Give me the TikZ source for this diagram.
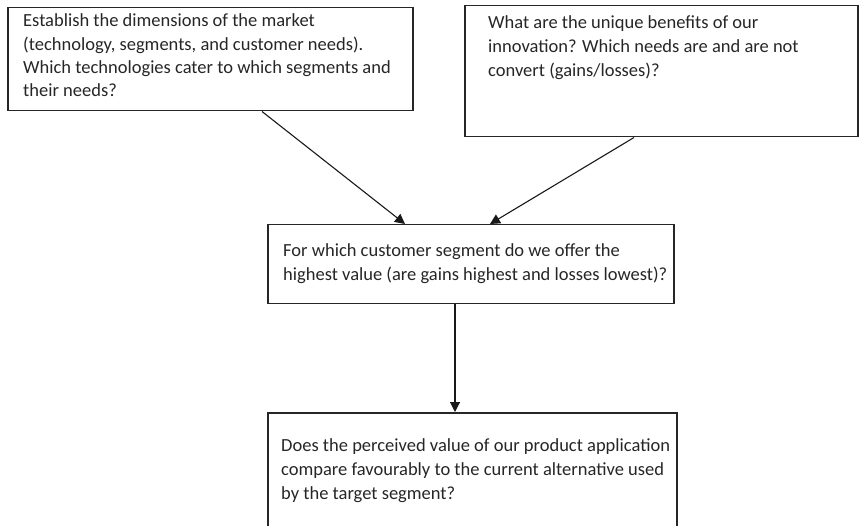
\documentclass[tikz,border=0pt]{standalone}
\usepackage{fontspec}
\setmainfont{Carlito}
\usetikzlibrary{arrows.meta,calc}
\newcommand{\txtlines}[1]{\begin{tabular}[t]{@{}l@{}}#1\end{tabular}}
\begin{document}
\begin{tikzpicture}[x=1pt,y=-1pt,
  boxst/.style={draw=black!85,line width=1.5pt,rectangle,inner sep=0pt,anchor=north west},
  txt/.style={anchor=base west,inner sep=0pt,text=black!85},
  conn/.style={draw=black!90,line width=1.1pt,-{Triangle[length=10pt,width=10pt]}}]
\useasboundingbox (0,0) rectangle (864,526);
% boxes
\node[boxst,minimum width=405pt,minimum height=103pt] (b1) at (7,7) {};
\node[boxst,minimum width=393pt,minimum height=131pt] (b2) at (464,5) {};
\node[boxst,minimum width=406pt,minimum height=79pt] (b3) at (267,224) {};
\node[boxst,minimum width=409pt,minimum height=118pt] (b4) at (267,412) {};
% texts
\node[txt,font=\fontsize{18.5}{23.3}\selectfont] (t1) at (23,27) {\txtlines{Establish the dimensions of the market\\(technology, segments, and customer needs).\\Which technologies cater to which segments and\\their needs?}};
\node[txt,font=\fontsize{18.5}{24}\selectfont] (t2) at (488,29) {\txtlines{What are the unique benefits of our\\innovation? Which needs are and are not\\convert (gains/losses)?}};
\node[txt,font=\fontsize{18.5}{23.3}\selectfont] (t3) at (283,257) {\txtlines{For which customer segment do we offer the\\highest value (are gains highest and losses lowest)?}};
\node[txt,font=\fontsize{18.5}{24}\selectfont] (t4) at (281,451) {\txtlines{Does the perceived value of our product application\\compare favourably to the current alternative used\\by the target segment?}};
% connectors
\draw[conn] ($(b1.south west)+(255,0)$) -- ($(b3.north west)+(138,0)$);
\draw[conn] ($(b2.south west)+(170,0)$) -- ($(b3.north west)+(223,0)$);
\draw[conn] ($(b3.south west)+(188,0)$) -- ($(b4.north west)+(188,0)$);
\end{tikzpicture}
\end{document}
